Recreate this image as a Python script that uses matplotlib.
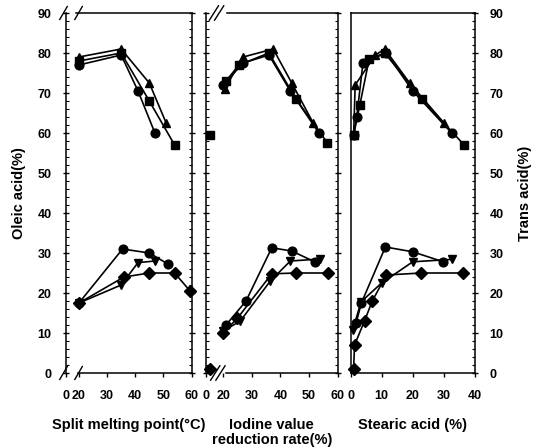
import matplotlib
matplotlib.use('Agg')
import matplotlib.pyplot as plt
from matplotlib.ticker import MultipleLocator, FixedLocator

plt.rcParams['font.family'] = ['Liberation Sans', 'DejaVu Sans']
plt.rcParams['font.weight'] = 'bold'

# ---------------- data ----------------
# Panel 1: split melting point (°C)
p1_ole_circle_x = [20, 35, 41, 47]
p1_ole_circle_y = [77, 79.5, 70.5, 60]
p1_ole_square_x = [20, 35, 45, 54]
p1_ole_square_y = [78, 80, 68, 57]
p1_ole_tri_x = [20, 35, 45, 51]
p1_ole_tri_y = [79, 81, 72.5, 62.5]
p1_tr_circle_x = [20, 35.5, 45, 51.5]
p1_tr_circle_y = [17.5, 31, 30, 27.3]
p1_tr_tri_x = [20, 35, 41, 47]
p1_tr_tri_y = [17.5, 22, 27.6, 28]
p1_tr_diam_x = [20, 36, 45, 54, 59.5]
p1_tr_diam_y = [17.5, 24, 25, 25, 20.5]

# Panel 2: iodine value reduction rate (%)
p2_start_ole = 59.5
p2_start_trans = 1
p2_ole_circle_x = [20, 27, 36, 43.5, 53.5]
p2_ole_circle_y = [72, 77.5, 79.5, 70.5, 60]
p2_ole_square_x = [21, 25.5, 36, 45.5, 56.5]
p2_ole_square_y = [73, 77, 80, 68.5, 57.5]
p2_ole_tri_x = [20.5, 27, 37.5, 44, 51.5]
p2_ole_tri_y = [71, 79, 81, 72.5, 62.5]
p2_tr_circle_x = [21, 28, 37, 44, 52]
p2_tr_circle_y = [12, 18, 31.3, 30.5, 27.8]
p2_tr_tri_x = [20, 26, 36.5, 43.5, 54]
p2_tr_tri_y = [10.5, 13, 23, 28, 28.5]
p2_tr_diam_x = [20, 25, 37, 45.5, 56.7]
p2_tr_diam_y = [10, 13.7, 24.8, 25, 25]

# Panel 3: stearic acid (%)
p3_ole_circle_x = [1, 2, 4, 11.5, 20, 32.5]
p3_ole_circle_y = [59.5, 64, 77.5, 80, 70.5, 60]
p3_ole_square_x = [1, 3, 6, 11, 23, 36.5]
p3_ole_square_y = [59.5, 67, 78.5, 80, 68.5, 57]
p3_ole_tri_x = [1, 1.5, 8, 11, 19, 30]
p3_ole_tri_y = [59.5, 72, 79.5, 81, 72.5, 62.5]
p3_tr_circle_x = [1.8, 3.5, 11.2, 20, 29.8]
p3_tr_circle_y = [12.5, 17.5, 31.5, 30.3, 27.8]
p3_tr_tri_x = [0.7, 3.4, 10, 20, 32.5]
p3_tr_tri_y = [10.7, 17.8, 22.5, 27.8, 28.4]
p3_tr_diam_x = [1, 1.3, 4.5, 7, 11.5, 22.8, 36.3]
p3_tr_diam_y = [1, 7, 13, 18, 24.5, 25, 25]

p1_ticks = [20, 30, 40, 50, 60]
p2_ticks = [20, 30, 40, 50, 60]
p3_ticks = [0, 10, 20, 30, 40]

# ---------------- figure ----------------
fig = plt.figure(figsize=(5.42, 4.48), dpi=100)
bot = 1 - 373 / 448
hgt = (373 - 13) / 448
ax1 = fig.add_axes([66 / 542, bot, 125.5 / 542, hgt])
ax2 = fig.add_axes([206 / 542, bot, 131.5 / 542, hgt])
ax3 = fig.add_axes([350.5 / 542, bot, 124.5 / 542, hgt])

lw = 1.2
ms = 6.3


def series(ax, x, y, m):
    ax.plot(x, y, color='black', lw=lw, marker=m, ms=ms, mfc='black',
            mec='black', clip_on=False, zorder=3)


def style(ax, xlo, xhi, ticks, left_labels=False, right_labels=False,
          zero_label=True):
    ax.set_xlim(xlo, xhi)
    ax.set_ylim(0, 90)
    tick_pos = ([xlo] if zero_label else []) + ticks
    labels = (['0'] if zero_label else []) + [str(t) for t in ticks]
    ax.xaxis.set_major_locator(FixedLocator(tick_pos))
    ax.set_xticklabels(labels)
    ax.yaxis.set_major_locator(MultipleLocator(10))
    ax.yaxis.set_minor_locator(MultipleLocator(2))
    ax.tick_params(axis='x', which='major', direction='out', length=3,
                   width=1, labelsize=9, pad=9)
    ax.tick_params(axis='y', which='major', direction='inout', length=5,
                   width=1, labelsize=9, pad=8,
                   left=True, right=True,
                   labelleft=left_labels, labelright=right_labels)
    ax.tick_params(axis='y', which='minor', direction='in', length=2.5,
                   width=0.8, left=True, right=True)
    for s in ax.spines.values():
        s.set_linewidth(1.1)
    for lab in ax.get_xticklabels() + ax.get_yticklabels():
        lab.set_fontweight('bold')


def breakmarks(ax, xs, y, dx=0.03, dy=0.022):
    for x0 in xs:
        ax.plot([x0 - dx, x0 + dx], [y - dy, y + dy], color='black', lw=1,
                transform=ax.transAxes, clip_on=False, zorder=5)


# Panel 1
style(ax1, 15.4, 60, p1_ticks, left_labels=True)
series(ax1, p1_ole_circle_x, p1_ole_circle_y, 'o')
series(ax1, p1_ole_square_x, p1_ole_square_y, 's')
series(ax1, p1_ole_tri_x, p1_ole_tri_y, '^')
series(ax1, p1_tr_circle_x, p1_tr_circle_y, 'o')
series(ax1, p1_tr_tri_x, p1_tr_tri_y, 'v')
series(ax1, p1_tr_diam_x, p1_tr_diam_y, 'D')
ax1.spines['top'].set_bounds(19.0, 60)
ax1.spines['bottom'].set_bounds(19.5, 60)
breakmarks(ax1, [-0.02, 0.1], 1.0, dx=0.03, dy=0.018)
breakmarks(ax1, [-0.02, 0.1], 0.0, dx=0.03, dy=0.018)
ax1.set_ylabel('Oleic acid(%)', fontsize=10.5, fontweight='bold', labelpad=8)
ax1.set_xlabel('Split melting point(°C)', fontsize=10.5, fontweight='bold',
               labelpad=12)

# Panel 2
style(ax2, 14.0, 60, p2_ticks)
ax2.plot([15.4], [p2_start_ole], color='black', marker='s', ms=ms,
         clip_on=False, zorder=3)
ax2.plot([15.4], [p2_start_trans], color='black', marker='D', ms=ms,
         clip_on=False, zorder=3)
series(ax2, p2_ole_circle_x, p2_ole_circle_y, 'o')
series(ax2, p2_ole_square_x, p2_ole_square_y, 's')
series(ax2, p2_ole_tri_x, p2_ole_tri_y, '^')
series(ax2, p2_tr_circle_x, p2_tr_circle_y, 'o')
series(ax2, p2_tr_tri_x, p2_tr_tri_y, 'v')
series(ax2, p2_tr_diam_x, p2_tr_diam_y, 'D')
ax2.spines['top'].set_bounds(21.5, 60)
ax2.spines['bottom'].set_bounds(21.0, 60)
breakmarks(ax2, [0.06, 0.1], 1.0, dx=0.035, dy=0.02)
breakmarks(ax2, [0.07, 0.11], 0.0, dx=0.035, dy=0.02)
ax2.set_xlabel('Iodine value\nreduction rate(%)', fontsize=10.5,
               fontweight='bold', labelpad=12, linespacing=1.1)

# Panel 3
style(ax3, 0, 40, p3_ticks[1:], right_labels=True)
series(ax3, p3_ole_square_x, p3_ole_square_y, 's')
series(ax3, p3_ole_tri_x, p3_ole_tri_y, '^')
series(ax3, p3_ole_circle_x, p3_ole_circle_y, 'o')
series(ax3, p3_tr_circle_x, p3_tr_circle_y, 'o')
series(ax3, p3_tr_tri_x, p3_tr_tri_y, 'v')
series(ax3, p3_tr_diam_x, p3_tr_diam_y, 'D')
ax3.tick_params(axis='y', which='both', left=False)
ax3.yaxis.set_label_position('right')
ax3.set_ylabel('Trans acid(%)', fontsize=10.5, fontweight='bold',
               labelpad=10, rotation=90)
ax3.set_xlabel('Stearic acid (%)', fontsize=10.5, fontweight='bold',
               labelpad=12)

fig.savefig('out.png', dpi=100)
